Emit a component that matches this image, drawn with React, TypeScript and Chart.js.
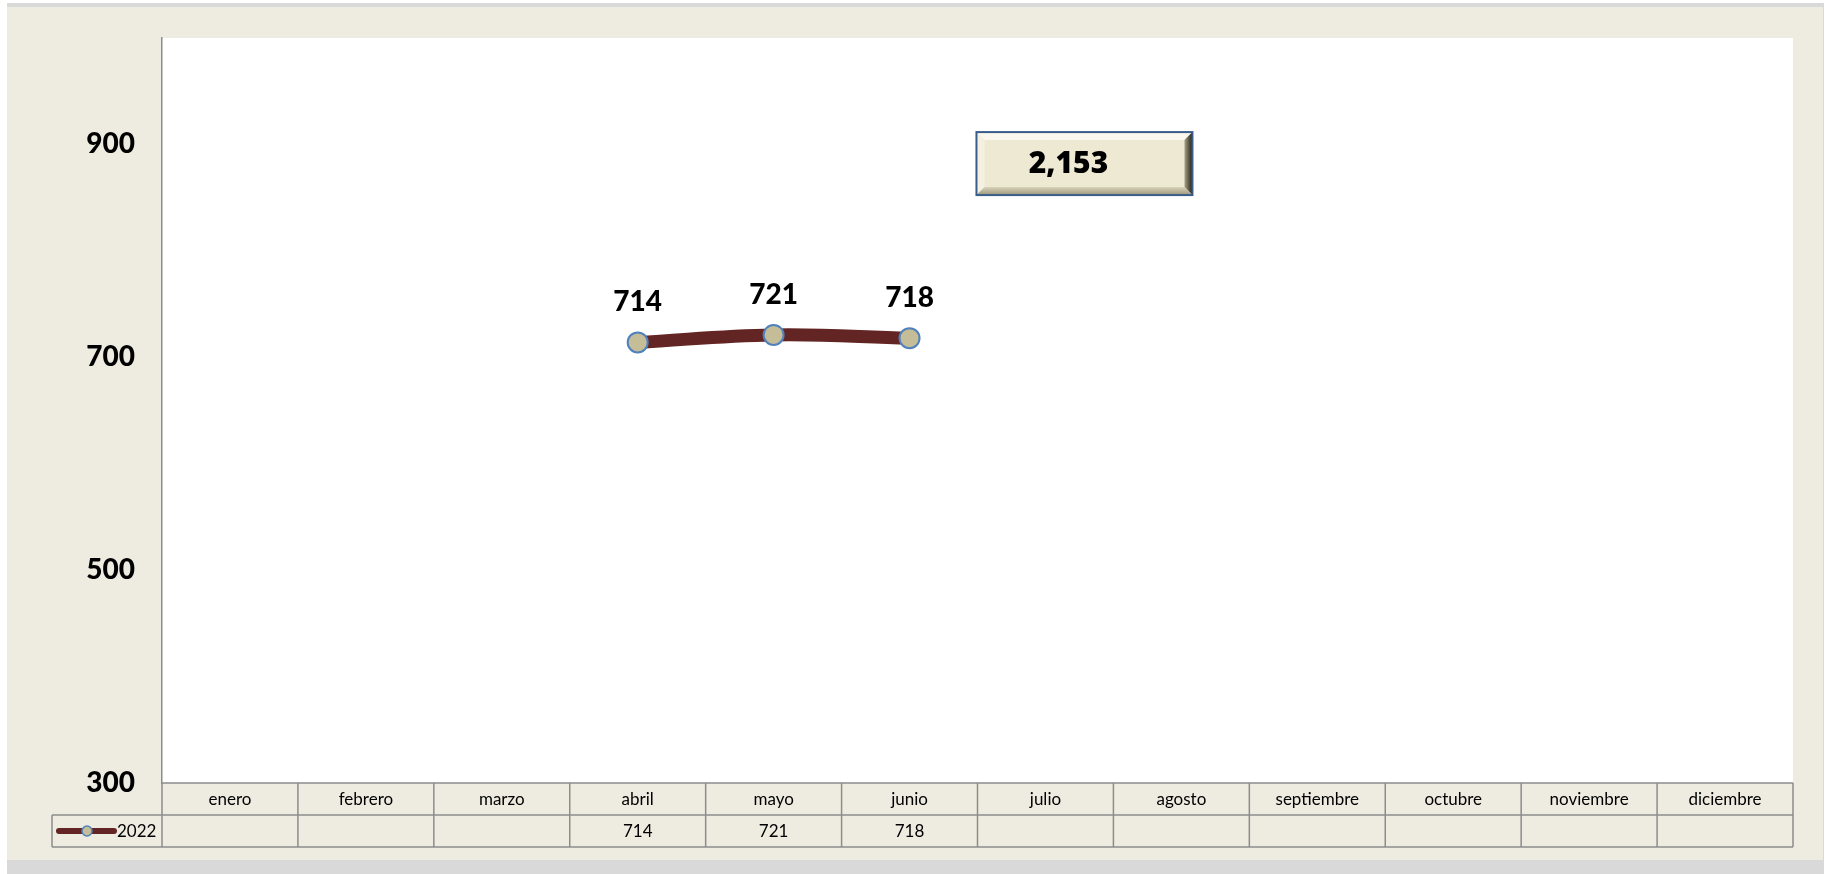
import React, { useEffect, useRef } from "react";
import { Chart, registerables } from "chart.js";

Chart.register(...registerables);

const months = [
  "enero", "febrero", "marzo", "abril", "mayo", "junio",
  "julio", "agosto", "septiembre", "octubre", "noviembre", "diciembre",
];
const seriesLabel = "2022";
const values2022: (number | null)[] = [null, null, null, 714, 721, 718, null, null, null, null, null, null];
const yTicks = [300, 500, 700, 900];
const yMin = 300;
const yMax = 1000;

const LINE_COLOR = "#632523";
const POINT_FILL = "#C4BD97";
const POINT_BORDER = "#4F81BD";
const GRID = "#8C8C8C";
const FONT = "Lato, 'Open Sans', sans-serif";

const fmt = (v: number) => v.toLocaleString("en-US");

const decoPlugin = {
  id: "deco",
  beforeDraw(chart: any) {
    const { ctx, chartArea: a } = chart;
    ctx.save();
    ctx.fillStyle = "#FFFFFF";
    ctx.fillRect(a.left, a.top, a.right - a.left, a.bottom - a.top);
    ctx.restore();
  },
  afterDraw(chart: any) {
    const { ctx, chartArea: a } = chart;
    const xs = chart.scales.x;
    const ys = chart.scales.y;
    const colW = xs.getPixelForValue(1) - xs.getPixelForValue(0);
    const rowH = 32;
    const r1 = a.bottom;
    const r2 = r1 + rowH;
    const r3 = r2 + rowH;
    const tLeft = xs.getPixelForValue(0) - colW / 2;
    const tRight = xs.getPixelForValue(months.length - 1) + colW / 2;
    const legLeft = tLeft - 110;

    ctx.save();
    ctx.fillStyle = "#EEECE1";
    ctx.fillRect(tLeft, r1, tRight - tLeft, rowH * 2);
    ctx.strokeStyle = GRID;
    ctx.lineWidth = 1.5;
    ctx.beginPath();
    ctx.moveTo(tLeft, r1); ctx.lineTo(tRight, r1);
    ctx.moveTo(legLeft, r2); ctx.lineTo(tRight, r2);
    ctx.moveTo(legLeft, r3); ctx.lineTo(tRight, r3);
    ctx.moveTo(legLeft, r2); ctx.lineTo(legLeft, r3);
    for (let i = 0; i <= months.length; i++) {
      const x = tLeft + i * colW;
      ctx.moveTo(x, r1); ctx.lineTo(x, r3);
    }
    ctx.stroke();

    ctx.fillStyle = "#000";
    ctx.font = `17px ${FONT}`;
    ctx.textAlign = "center";
    ctx.textBaseline = "middle";
    months.forEach((m, i) => {
      const cx = xs.getPixelForValue(i);
      ctx.fillText(m, cx, r1 + rowH / 2 + 1);
      const v = values2022[i];
      if (v != null) ctx.fillText(fmt(v), cx, r2 + rowH / 2 + 1);
    });

    const ly = r2 + rowH / 2;
    ctx.strokeStyle = LINE_COLOR;
    ctx.lineWidth = 6;
    ctx.lineCap = "round";
    ctx.beginPath();
    ctx.moveTo(legLeft + 7, ly); ctx.lineTo(legLeft + 62, ly);
    ctx.stroke();
    ctx.beginPath();
    ctx.arc(legLeft + 35, ly, 5, 0, Math.PI * 2);
    ctx.fillStyle = POINT_FILL;
    ctx.fill();
    ctx.strokeStyle = POINT_BORDER;
    ctx.lineWidth = 1.5;
    ctx.stroke();
    ctx.fillStyle = "#000";
    ctx.textAlign = "left";
    ctx.font = `17px ${FONT}`;
    ctx.fillText(seriesLabel, legLeft + 65, ly + 1);

    ctx.font = `900 28px ${FONT}`;
    ctx.textAlign = "center";
    ctx.textBaseline = "middle";
    values2022.forEach((v, i) => {
      if (v == null) return;
      ctx.fillText(fmt(v), xs.getPixelForValue(i), ys.getPixelForValue(v) - 40);
    });

    const total = values2022.reduce((s: number, v) => s + (v ?? 0), 0);
    const bw = 216, bh = 63;
    const bcx = xs.getPixelForValue(6) + 39;
    const bcy = ys.getPixelForValue(882);
    const bx = bcx - bw / 2, by = bcy - bh / 2;
    const ins = 8;
    ctx.fillStyle = "#EEE9D2";
    ctx.fillRect(bx, by, bw, bh);
    ctx.fillStyle = "#FAF8EE";
    ctx.beginPath();
    ctx.moveTo(bx, by); ctx.lineTo(bx + bw, by); ctx.lineTo(bx + bw - ins, by + ins); ctx.lineTo(bx + ins, by + ins); ctx.closePath();
    ctx.fill();
    ctx.fillStyle = "#F4F1E2";
    ctx.beginPath();
    ctx.moveTo(bx, by); ctx.lineTo(bx + ins, by + ins); ctx.lineTo(bx + ins, by + bh - ins); ctx.lineTo(bx, by + bh); ctx.closePath();
    ctx.fill();
    const gr = ctx.createLinearGradient(bx + bw - ins, 0, bx + bw, 0);
    gr.addColorStop(0, "#A8A286");
    gr.addColorStop(1, "#1E1C16");
    ctx.fillStyle = gr;
    ctx.beginPath();
    ctx.moveTo(bx + bw, by); ctx.lineTo(bx + bw, by + bh); ctx.lineTo(bx + bw - ins, by + bh - ins); ctx.lineTo(bx + bw - ins, by + ins); ctx.closePath();
    ctx.fill();
    const gb = ctx.createLinearGradient(0, by + bh - ins, 0, by + bh);
    gb.addColorStop(0, "#D8D2B8");
    gb.addColorStop(1, "#9C967C");
    ctx.fillStyle = gb;
    ctx.beginPath();
    ctx.moveTo(bx, by + bh); ctx.lineTo(bx + bw, by + bh); ctx.lineTo(bx + bw - ins, by + bh - ins); ctx.lineTo(bx + ins, by + bh - ins); ctx.closePath();
    ctx.fill();
    ctx.strokeStyle = "#385D8A";
    ctx.lineWidth = 2;
    ctx.strokeRect(bx, by, bw, bh);
    ctx.fillStyle = "#000";
    ctx.font = `800 30px 'Open Sans', sans-serif`;
    ctx.textAlign = "center";
    ctx.textBaseline = "middle";
    ctx.fillText(fmt(total), bcx - 16, bcy + 1);
    ctx.restore();
  },
};

export default function App() {
  const ref = useRef<HTMLCanvasElement>(null);
  useEffect(() => {
    const prevMargin = document.body.style.margin;
    document.body.style.margin = "0";
    const chart = new Chart(ref.current!, {
      type: "line",
      data: {
        labels: months,
        datasets: [
          {
            label: seriesLabel,
            data: values2022,
            borderColor: LINE_COLOR,
            borderWidth: 13,
            tension: 0.4,
            pointRadius: 10,
            pointBackgroundColor: POINT_FILL,
            pointBorderColor: POINT_BORDER,
            pointBorderWidth: 2,
            spanGaps: false,
          },
        ],
      },
      options: {
        responsive: false,
        maintainAspectRatio: false,
        animation: false,
        layout: { padding: { left: 0, top: 31, right: 30, bottom: 77 } },
        plugins: { legend: { display: false }, tooltip: { enabled: false } },
        scales: {
          x: { type: "category", display: false, offset: true },
          y: {
            min: yMin,
            max: yMax,
            afterBuildTicks: (s: any) => { s.ticks = yTicks.map((v) => ({ value: v })); },
            afterFit: (s: any) => {
              s.width = 155;
              s.paddingTop = 0;
              s.paddingBottom = 0;
            },
            grid: { display: false, drawTicks: false },
            border: { display: true, color: GRID, width: 1.5 },
            ticks: {
              padding: 27,
              color: "#000",
              font: { family: FONT, size: 28, weight: "900" },
              callback: (v: any) => String(v),
            },
          },
        },
      },
      plugins: [decoPlugin],
    });
    return () => {
      chart.destroy();
      document.body.style.margin = prevMargin;
    };
  }, []);

  return (
    <div style={{ position: "absolute", left: 0, top: 0, width: 1827, height: 874, background: "#FFFFFF", overflow: "hidden" }}>
      <div style={{ position: "absolute", left: 7, top: 3, width: 1817, height: 871, background: "#D9D9D9" }} />
      <div style={{ position: "absolute", left: 7, top: 7, width: 1816, height: 853, background: "#EEECE1" }}>
        <canvas ref={ref} width={1816} height={853} style={{ display: "block", width: 1816, height: 853 }} />
      </div>
    </div>
  );
}
